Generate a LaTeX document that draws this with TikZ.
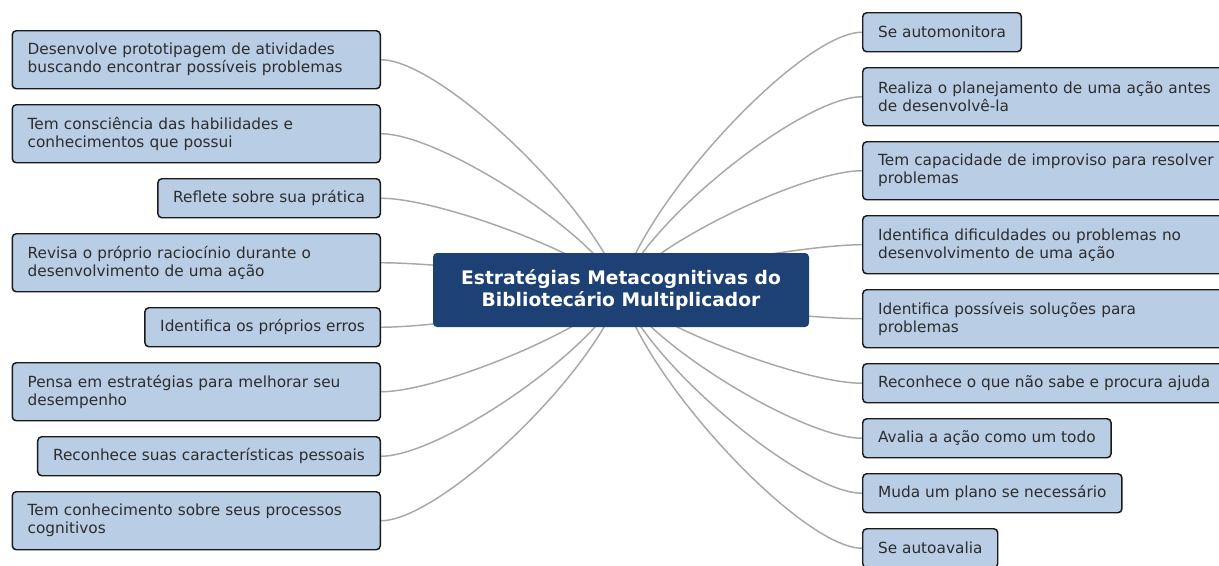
\documentclass[tikz,border=0pt]{standalone}
\usepackage{fontspec}
\setmainfont{DejaVu Sans}
\usetikzlibrary{positioning, calc, backgrounds}
\definecolor{hubblue}{RGB}{29, 65, 116}
\definecolor{leafblue}{RGB}{185, 205, 229}
\definecolor{leafborder}{RGB}{25, 25, 25}
\definecolor{leaftext}{RGB}{45, 45, 45}
\definecolor{branchgray}{RGB}{168, 168, 168}

\begin{document}
\begin{tikzpicture}[
    x=0.75pt, y=-0.75pt, % one unit = one pixel of the sketch
    node distance=10.9pt,
    % Styles
    hubbox/.style={
        rectangle,
        rounded corners=3pt,
        fill=hubblue,
        text=white,
        minimum width=282pt,
        minimum height=55.5pt,
        align=center,
        font=\bfseries\fontsize{14}{16.5}\selectfont
    },
    leafbox/.style={
        rectangle,
        rounded corners=3pt,
        draw=leafborder,
        line width=1.1pt,
        fill=leafblue,
        text=leaftext,
        inner xsep=11.5pt,
        inner ysep=3pt,
        minimum height=29.25pt,
        font=\fontsize{11.5}{13.5}\selectfont
    },
    widebox/.style={
        text width=253pt,
        align=left,
        minimum height=43.5pt
    },
    branch/.style={
        draw=branchgray,
        line width=1.1pt,
        to path={let \p1=(\tikztostart), \p2=(\tikztotarget) in
            .. controls ({\x1+0.1*(\x2-\x1)},{\y1+0.35*(\y2-\y1)})
            and ({\x1+0.75*(\x2-\x1)},\y2) .. (\tikztotarget)}
    }
]

\useasboundingbox (0,0) rectangle (1219,565);

% --- Central Topic ---
\node (hub) [hubbox] at (621,290) {Estratégias Metacognitivas do\\Bibliotecário Multiplicador};

% --- Left Branches ---
\node (left1) [leafbox, widebox, anchor=north east] at (381,30) {Desenvolve prototipagem de atividades\\buscando encontrar possíveis problemas};
\node (left2) [leafbox, widebox, below=of left1.south east, anchor=north east] {Tem consciência das habilidades e\\conhecimentos que possui};
\node (left3) [leafbox, below=of left2.south east, anchor=north east] {Reflete sobre sua prática};
\node (left4) [leafbox, widebox, below=of left3.south east, anchor=north east] {Revisa o próprio raciocínio durante o\\desenvolvimento de uma ação};
\node (left5) [leafbox, below=of left4.south east, anchor=north east] {Identifica os próprios erros};
\node (left6) [leafbox, widebox, below=of left5.south east, anchor=north east] {Pensa em estratégias para melhorar seu\\desempenho};
\node (left7) [leafbox, below=of left6.south east, anchor=north east] {Reconhece suas características pessoais};
\node (left8) [leafbox, widebox, below=of left7.south east, anchor=north east] {Tem conhecimento sobre seus processos\\cognitivos};

% --- Right Branches ---
\node (right1) [leafbox, anchor=north west] at (862,12) {Se automonitora};
\node (right2) [leafbox, widebox, below=of right1.south west, anchor=north west] {Realiza o planejamento de uma ação antes\\de desenvolvê-la};
\node (right3) [leafbox, widebox, below=of right2.south west, anchor=north west] {Tem capacidade de improviso para resolver\\problemas};
\node (right4) [leafbox, widebox, below=of right3.south west, anchor=north west] {Identifica dificuldades ou problemas no\\desenvolvimento de uma ação};
\node (right5) [leafbox, widebox, below=of right4.south west, anchor=north west] {Identifica possíveis soluções para\\problemas};
\node (right6) [leafbox, below=of right5.south west, anchor=north west] {Reconhece o que não sabe e procura ajuda};
\node (right7) [leafbox, below=of right6.south west, anchor=north west] {Avalia a ação como um todo};
\node (right8) [leafbox, below=of right7.south west, anchor=north west] {Muda um plano se necessário};
\node (right9) [leafbox, below=of right8.south west, anchor=north west] {Se autoavalia};

% --- Connections (behind the nodes) ---
\begin{scope}[on background layer]
    \fill [white] (0,0) rectangle (1219,565);

    \draw [branch] (hub.center) to (left1.east);
    \draw [branch] (hub.center) to (left2.east);
    \draw [branch] (hub.center) to (left3.east);
    \draw [branch] (hub.center) to (left4.east);
    \draw [branch] (hub.center) to (left5.east);
    \draw [branch] (hub.center) to (left6.east);
    \draw [branch] (hub.center) to (left7.east);
    \draw [branch] (hub.center) to (left8.east);

    \draw [branch] (hub.center) to (right1.west);
    \draw [branch] (hub.center) to (right2.west);
    \draw [branch] (hub.center) to (right3.west);
    \draw [branch] (hub.center) to (right4.west);
    \draw [branch] (hub.center) to (right5.west);
    \draw [branch] (hub.center) to (right6.west);
    \draw [branch] (hub.center) to (right7.west);
    \draw [branch] (hub.center) to (right8.west);
    \draw [branch] (hub.center) to (right9.west);
\end{scope}

\end{tikzpicture}
\end{document}
